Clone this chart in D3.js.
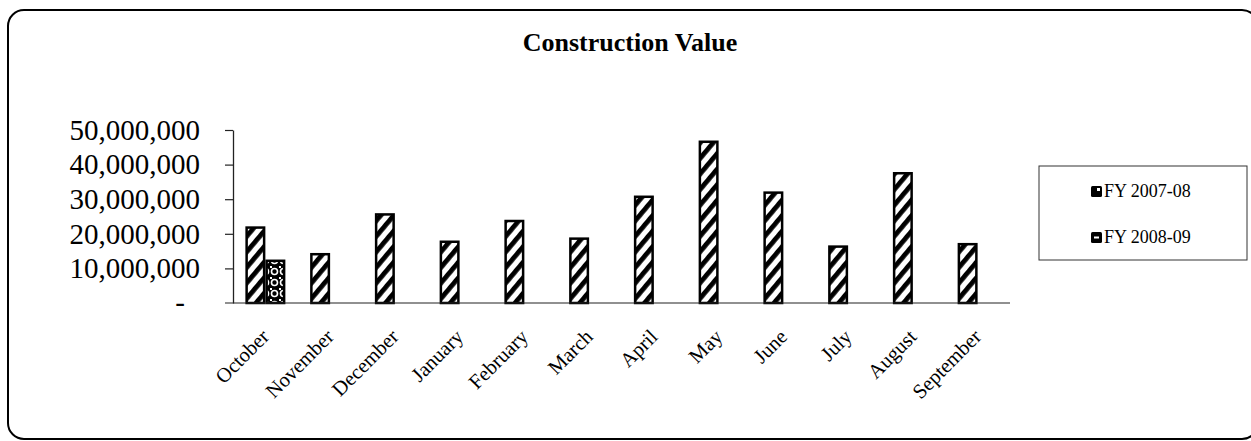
<!DOCTYPE html>
<html lang="en">
<head>
  <meta charset="UTF-8">
  <title>Construction Value</title>
  <style>
    * { margin: 0; padding: 0; box-sizing: border-box; }
    body { background: #fff; font-family: "Liberation Serif", "Times New Roman", serif; }
    svg { display: block; }
  </style>
</head>
<body>
  <div id="chart"></div>

  <script src="https://d3js.org/d3.v7.min.js"></script>
  <script>
  // chart data
  var months = ["October", "November", "December", "January", "February", "March",
                "April", "May", "June", "July", "August", "September"];
  var seriesNames = ["FY 2007-08", "FY 2008-09"];
  var fy0708 = [21800000, 14100000, 25600000, 17700000, 23700000, 18600000,
                30700000, 46600000, 31900000, 16300000, 37500000, 17000000];
  var fy0809 = [12200000, null, null, null, null, null,
                null, null, null, null, null, null];
  var yTicks = [0, 10000000, 20000000, 30000000, 40000000, 50000000];

  var W = 1251, H = 441;
  var margin = {top: 130, right: 241, bottom: 138, left: 233};

  var svg = d3.select("#chart").append("svg")
    .attr("width", W)
    .attr("height", H);

  // patterns for the two series
  var defs = svg.append("defs");
  var hatch = defs.append("pattern")
    .attr("id", "hatch")
    .attr("patternUnits", "userSpaceOnUse")
    .attr("width", 10).attr("height", 10)
    .attr("patternTransform", "rotate(40)");
  hatch.append("rect").attr("width", 10).attr("height", 10).attr("fill", "#fff");
  hatch.append("rect").attr("x", 0).attr("width", 4.8).attr("height", 10).attr("fill", "#000");

  var dots = defs.append("pattern")
    .attr("id", "dots")
    .attr("patternUnits", "userSpaceOnUse")
    .attr("x", 1).attr("y", 2)
    .attr("width", 9).attr("height", 11);
  dots.append("rect").attr("width", 9).attr("height", 11).attr("fill", "#000");
  dots.append("circle").attr("cx", 4.5).attr("cy", 5.5).attr("r", 3)
    .attr("fill", "none").attr("stroke", "#fff").attr("stroke-width", 1.6);
  dots.append("rect").attr("x", 0).attr("y", 0).attr("width", 2).attr("height", 2).attr("fill", "#fff");

  var fills = ["url(#hatch)", "url(#dots)"];

  // outer rounded frame
  svg.append("rect")
    .attr("x", 8).attr("y", 10)
    .attr("width", 1250).attr("height", 429)
    .attr("rx", 16).attr("ry", 16)
    .attr("fill", "none")
    .attr("stroke", "#000")
    .attr("stroke-width", 2);

  // title
  svg.append("text")
    .attr("x", 630)
    .attr("y", 51)
    .attr("text-anchor", "middle")
    .style("font-size", "26px")
    .style("font-weight", "bold")
    .text("Construction Value");

  var x0 = d3.scaleBand()
    .domain(months)
    .range([margin.left, W - margin.right]);

  var bw = x0.bandwidth();
  var x1 = d3.scaleBand()
    .domain(seriesNames)
    .range([(bw - 40) / 2, (bw + 40) / 2]);

  var y = d3.scaleLinear()
    .domain([0, 50000000])
    .range([H - margin.bottom, margin.top]);

  // y axis
  var fmt = d3.format(",");
  var yAxis = svg.append("g")
    .attr("transform", "translate(" + margin.left + ",0)")
    .call(d3.axisLeft(y)
      .tickValues(yTicks)
      .tickSizeInner(8)
      .tickSizeOuter(0)
      .tickPadding(25)
      .tickFormat(function(d) { return d === 0 ? "-" : fmt(d); }));
  yAxis.select(".domain").attr("stroke", "#222").attr("stroke-width", 1.3);
  yAxis.selectAll(".tick line").attr("stroke", "#222").attr("stroke-width", 1.2);
  yAxis.selectAll(".tick text")
    .style("font-family", "'Liberation Serif', serif")
    .style("font-size", "29px")
    .attr("fill", "#000");
  yAxis.selectAll(".tick")
    .filter(function(d) { return d === 0; })
    .select("text")
    .attr("dx", -15)
    .attr("dy", "0.3em");
  // no tick at zero
  yAxis.selectAll(".tick")
    .filter(function(d) { return d === 0; })
    .select("line").remove();

  // bars
  var series = [fy0708, fy0809];
  var groups = svg.append("g").selectAll("g")
    .data(months)
    .enter()
    .append("g")
      .attr("transform", function(d) { return "translate(" + x0(d) + ",0)"; });

  groups.selectAll("rect")
    .data(function(m, i) {
      return seriesNames.map(function(s, j) { return {s: s, v: series[j][i], j: j}; })
        .filter(function(d) { return d.v != null; });
    })
    .enter()
    .append("rect")
      .attr("x", function(d) { return x1(d.s) + 1.25; })
      .attr("y", function(d) { return y(d.v); })
      .attr("width", x1.bandwidth() - 2.5)
      .attr("height", function(d) { return y(0) - y(d.v); })
      .attr("fill", function(d) { return fills[d.j]; })
      .attr("stroke", "#000")
      .attr("stroke-width", 2.5);

  // x baseline
  svg.append("line")
    .attr("x1", margin.left - 8)
    .attr("x2", x0.range()[1])
    .attr("y1", y(0)).attr("y2", y(0))
    .attr("stroke", "#222")
    .attr("stroke-width", 1.2);

  // month labels
  svg.append("g").selectAll("text")
    .data(months)
    .enter()
    .append("text")
      .attr("transform", function(d) {
        return "translate(" + (x0(d) + bw / 2 + 5) + "," + (y(0) + 35) + ") rotate(-45)";
      })
      .attr("text-anchor", "end")
      .style("font-size", "20.5px")
      .text(function(d) { return d; });

  // legend
  var lg = svg.append("g");
  lg.append("rect")
    .attr("x", 1039).attr("y", 166)
    .attr("width", 208).attr("height", 94)
    .attr("fill", "#fff")
    .attr("stroke", "#333")
    .attr("stroke-width", 1);

  var items = lg.selectAll("g.item")
    .data(seriesNames)
    .enter()
    .append("g")
      .attr("class", "item")
      .attr("transform", function(d, i) { return "translate(1091," + (186 + i * 46) + ")"; });

  items.append("rect")
    .attr("width", 11).attr("height", 11)
    .attr("rx", 1.5)
    .attr("fill", "#000");
  items.append("rect")
    .attr("x", function(d, i) { return i === 0 ? 6 : 3; })
    .attr("y", function(d, i) { return i === 0 ? 2 : 4.5; })
    .attr("width", function(d, i) { return i === 0 ? 3 : 5; })
    .attr("height", function(d, i) { return i === 0 ? 3 : 2; })
    .attr("fill", "#fff");
  items.append("text")
    .attr("x", 13)
    .attr("y", 11)
    .style("font-size", "18px")
    .text(function(d) { return d; });
  </script>
</body>
</html>
